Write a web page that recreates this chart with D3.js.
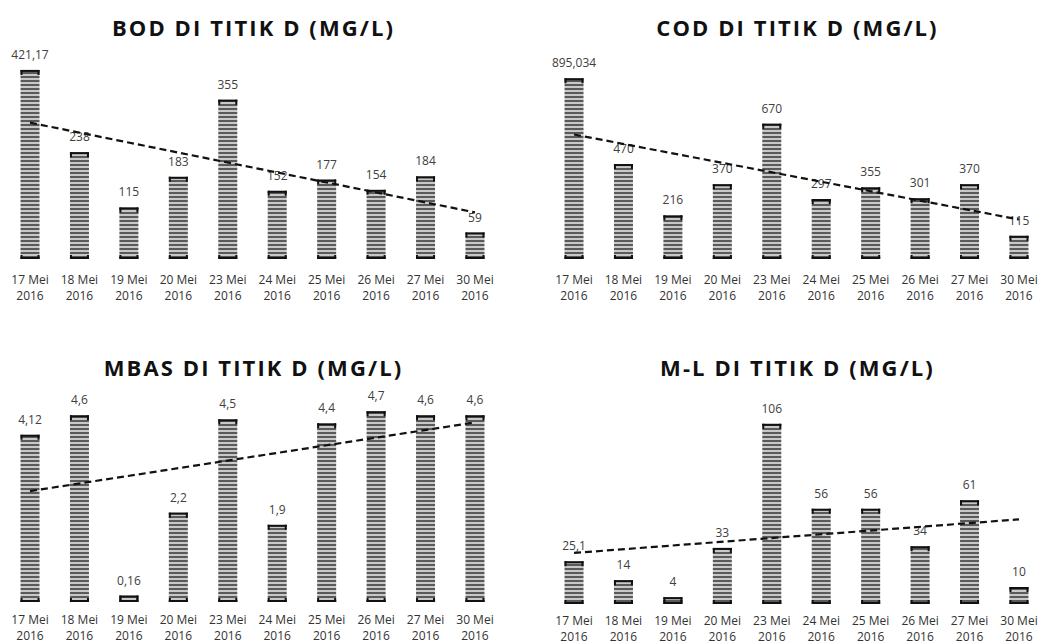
<!DOCTYPE html>
<html><head><meta charset="utf-8">
<script src="https://cdn.jsdelivr.net/npm/d3@7"></script>
<style>
body{margin:0;background:#fff;}
svg{display:block;font-family:"Open Sans",sans-serif;}
</style></head>
<body><svg id="c" width="1040" height="644"></svg>
<script>
const categories = ["17 Mei 2016","18 Mei 2016","19 Mei 2016","20 Mei 2016","23 Mei 2016","24 Mei 2016","25 Mei 2016","26 Mei 2016","27 Mei 2016","30 Mei 2016"];
const bodValues  = [421.17, 238, 115, 183, 355, 152, 177, 154, 184, 59];
const codValues  = [895.034, 470, 216, 370, 670, 297, 355, 301, 370, 115];
const mbasValues = [4.12, 4.6, 0.16, 2.2, 4.5, 1.9, 4.4, 4.7, 4.6, 4.6];
const mlValues   = [25.1, 14, 4, 33, 106, 56, 56, 34, 61, 10];
const titles = ["BOD DI TITIK D (MG/L)","COD DI TITIK D (MG/L)","MBAS DI TITIK D (MG/L)","M-L DI TITIK D (MG/L)"];
const axisMax = [450, 1000, 5, 120];

const svg = d3.select("#c");
const defs = svg.append("defs");
const pat = defs.append("pattern").attr("id","stripes").attr("patternUnits","userSpaceOnUse")
  .attr("width",8).attr("height",4);
pat.append("rect").attr("width",8).attr("height",4).attr("fill","#c8c8c8");
pat.append("rect").attr("width",8).attr("height",2).attr("fill","#5a5a5a");

const panels = [
  {title:titles[0], values:bodValues,  max:axisMax[0], x0:5.3,   x1:499.7,  base:259, top:57,  titleY:36,  lab1:284, lab2:300},
  {title:titles[1], values:codValues,  max:axisMax[1], x0:549.3, x1:1043.7, base:259, top:57,  titleY:36,  lab1:284, lab2:300},
  {title:titles[2], values:mbasValues, max:axisMax[2], x0:5.3,   x1:499.7,  base:602, top:399, titleY:376, lab1:624, lab2:640},
  {title:titles[3], values:mlValues,   max:axisMax[3], x0:549.3, x1:1043.7, base:604, top:400, titleY:376, lab1:625, lab2:641}
];

const fmt = v => String(v).replace(".", ",");
const bw = 19;

panels.forEach(p => {
  const g = svg.append("g");
  const x = d3.scaleBand().domain(categories).range([p.x0, p.x1]).padding(0);
  const y = d3.scaleLinear().domain([0, p.max]).range([p.base, p.top]);
  const cx = c => x(c) + x.bandwidth()/2;
  const data = categories.map((c,i)=>({c, v:p.values[i]}));

  g.append("text").attr("x", (p.x0+p.x1)/2 + 1).attr("y", p.titleY)
    .attr("text-anchor","middle").attr("font-size",22).attr("font-weight","bold")
    .attr("letter-spacing","2.1px").attr("fill","#111").text(p.title);

  const bars = g.selectAll("g.bar").data(data).join("g").attr("class","bar");
  bars.append("rect").attr("x", d=>cx(d.c)-bw/2).attr("y", d=>y(d.v))
    .attr("width", bw).attr("height", d=>y(0)-y(d.v)).attr("fill","url(#stripes)");
  bars.append("rect").attr("x", d=>cx(d.c)-bw/2).attr("y", d=>y(d.v))
    .attr("width", bw).attr("height", 2).attr("fill","#111");
  bars.append("path").attr("d", d=>{
      const l = cx(d.c)-bw/2, r = cx(d.c)+bw/2, t = y(d.v);
      const h = Math.min(5, y(0)-y(d.v));
      return `M${l},${t}h2v${h}h-2z M${r-2},${t}h2v${h}h-2z`;
    }).attr("fill","#111");
  bars.append("rect").attr("x", d=>cx(d.c)-bw/2).attr("y", y(0)-2)
    .attr("width", bw).attr("height", 2).attr("fill","#111");
  bars.append("path").attr("d", d=>{
      const l = cx(d.c)-bw/2, r = cx(d.c)+bw/2, b = y(0);
      const h = Math.min(4, y(0)-y(d.v));
      return `M${l},${b-h}h2v${h}h-2z M${r-2},${b-h}h2v${h}h-2z`;
    }).attr("fill","#111");

  bars.append("text").attr("x", d=>cx(d.c)).attr("y", d=>y(d.v)-11)
    .attr("text-anchor","middle").attr("font-size",12).attr("fill","#404040")
    .text(d=>fmt(d.v));

  const lbl = g.selectAll("text.cat").data(categories).join("text").attr("class","cat")
    .attr("text-anchor","middle").attr("font-size",12).attr("fill","#333");
  lbl.append("tspan").attr("x", c=>cx(c)).attr("y", p.lab1).text(c=>c.split(" ").slice(0,2).join(" "));
  lbl.append("tspan").attr("x", c=>cx(c)).attr("y", p.lab2).text(c=>c.split(" ")[2]);

  const n = p.values.length;
  const xs = d3.range(1, n+1);
  const mx = d3.mean(xs), my = d3.mean(p.values);
  const sxy = d3.sum(xs, (xi,i)=>(xi-mx)*(p.values[i]-my));
  const sxx = d3.sum(xs, xi=>(xi-mx)*(xi-mx));
  const slope = sxy/sxx, icpt = my - slope*mx;
  const pts = [1, n].map(k => [cx(categories[k-1]), y(icpt + slope*k)]);
  g.append("path").attr("d", d3.line()(pts)).attr("stroke","#111").attr("stroke-width",2.2)
    .attr("stroke-dasharray","7,4").attr("fill","none");
});
</script></body></html>
